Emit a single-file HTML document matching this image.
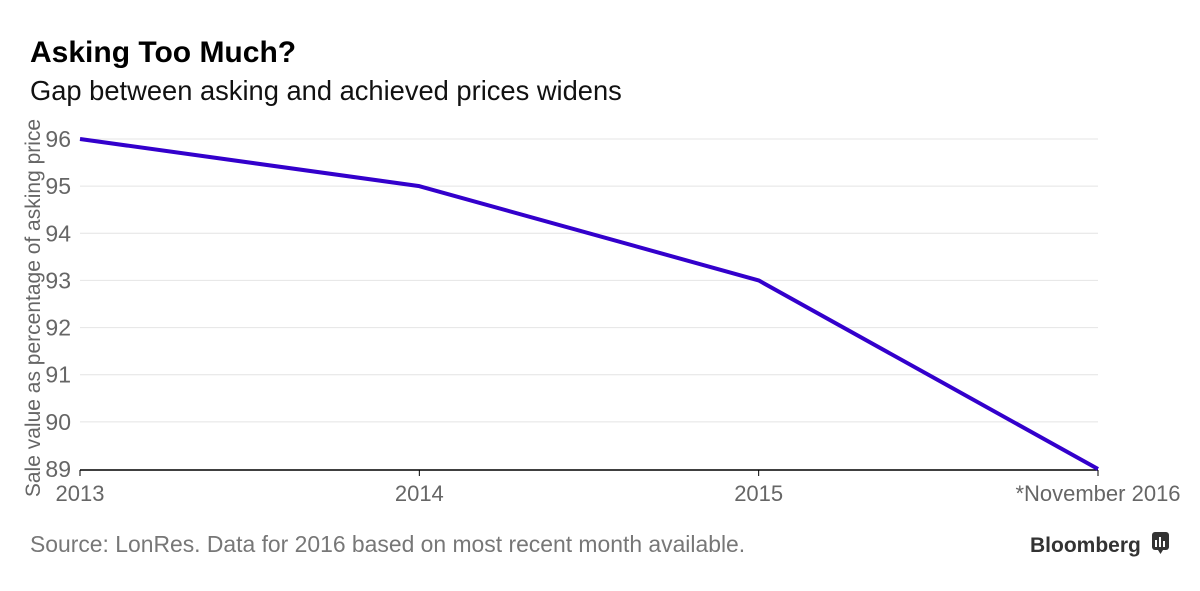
<!DOCTYPE html>
<html><head><meta charset="utf-8">
<style>
body{margin:0;background:#fff;width:1200px;height:586px;overflow:hidden;font-family:"Liberation Sans",sans-serif;}
</style></head>
<body>
<svg width="1200" height="586" xmlns="http://www.w3.org/2000/svg">
<text x="30" y="62" font-size="30" font-weight="bold" fill="#000">Asking Too Much?</text>
<text x="30" y="100" font-size="27.3" fill="#111">Gap between asking and achieved prices widens</text>
<text transform="translate(40,308) rotate(-90)" text-anchor="middle" font-size="21" fill="#666">Sale value as percentage of asking price</text>
<g id="grid"></g>
<g id="yticks"></g>
<g id="xticks"></g>
<path id="series" fill="none" stroke="#3300cc" stroke-width="4" stroke-linejoin="round"/>
<text x="30" y="552" font-size="22.9" fill="#777">Source: LonRes. Data for 2016 based on most recent month available.</text>
<text x="1030" y="552" font-size="21" font-weight="bold" fill="#333">Bloomberg</text>
<g>
<rect x="1152" y="532" width="17" height="18" rx="3" fill="#333"/>
<path d="M1158 550 L1160.5 554 L1163 550 Z" fill="#333"/>
<rect x="1155" y="540" width="2" height="7" fill="#fff"/><rect x="1159" y="537" width="2" height="10" fill="#fff"/><rect x="1163" y="541" width="2" height="6" fill="#fff"/>
</g>
</svg>
<script>
const categories=["2013","2014","2015","*November 2016"];
const values=[96,95,93,89];
const yTicks=[89,90,91,92,93,94,95,96];
const NS="http://www.w3.org/2000/svg";
const x0=80,x1=1098,yTop=139,yBot=469;
function xs(i){return x0+(x1-x0)*i/(categories.length-1);}
function ys(v){return yBot-(v-89)/(96-89)*(yBot-yTop);}
function mk(tag,attrs,parent){const e=document.createElementNS(NS,tag);for(const k in attrs)e.setAttribute(k,attrs[k]);document.getElementById(parent).appendChild(e);return e;}
yTicks.forEach(t=>{
  if(t!==89){const l=mk('line',{x1:x0,x2:x1,y1:ys(t),y2:ys(t),stroke:'#e4e4e4','stroke-width':1},'grid');
  
  }
  const tx=mk('text',{x:71,y:ys(t)+8,'font-size':23,fill:'#666','text-anchor':'end'},'yticks');
  tx.textContent=t;
  
  
});
const ax=mk('line',{x1:x0,x2:x1,y1:yBot+1,y2:yBot+1,stroke:'#000','stroke-width':1.5},'xticks');


categories.forEach((c,i)=>{
  const tk=mk('line',{x1:xs(i),x2:xs(i),y1:yBot+1,y2:yBot+7,stroke:'#000','stroke-width':1},'xticks');
  
  
  const tx=mk('text',{x:xs(i),y:yBot+32,'font-size':22,fill:'#666','text-anchor':'middle'},'xticks');
  tx.textContent=c;
  
  
});
document.getElementById('series').setAttribute('d',values.map((v,i)=>(i?'L':'M')+xs(i)+' '+ys(v)).join(' '));
</script>
</body></html>
